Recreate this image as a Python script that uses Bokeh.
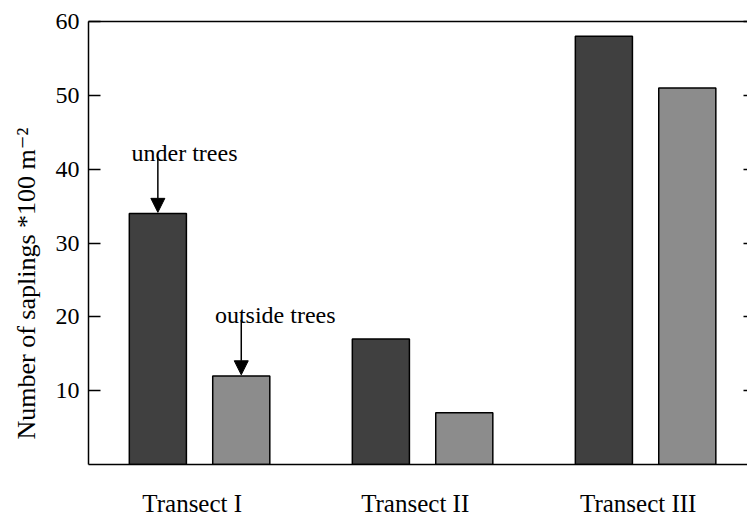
from bokeh.plotting import figure
from bokeh.models import (Range1d, LinearAxis, FixedTicker, Label, Title, Arrow, NormalHead)
from bokeh.embed import file_html
from bokeh.resources import INLINE

# ---- data ----
transects = ["Transect I", "Transect II", "Transect III"]
under_trees = [34, 17, 58]
outside_trees = [12, 7, 51]
y_ticks = [10, 20, 30, 40, 50, 60]
annot_labels = ["under trees", "outside trees"]
y_title = "Number of saplings *100 m\u207b\u00b2"

FONT = "'Liberation Serif', 'Times New Roman', 'DejaVu Serif', serif"
DARK = "#404040"
LIGHT = "#8c8c8c"

groups = list(range(len(transects)))
off = 0.187
bw = 0.256
label_off = -0.033

p = figure(width=747, height=519, output_backend="svg", toolbar_location=None,
           x_range=Range1d(-0.498, 2.457), y_range=Range1d(0, 60),
           min_border_left=88, min_border_right=0, min_border_top=21, min_border_bottom=53)
p.outline_line_color = None
p.grid.visible = False
p.background_fill_color = "white"
p.border_fill_color = "white"

x_under = [g - off for g in groups]
x_out = [g + off for g in groups]
p.vbar(x=x_under, top=under_trees, bottom=0, width=bw, fill_color=DARK,
       line_color="black", line_width=1.5)
p.vbar(x=x_out, top=outside_trees, bottom=0, width=bw, fill_color=LIGHT,
       line_color="black", line_width=1.5)

# left axis
ya = p.yaxis[0]
ya.ticker = FixedTicker(ticks=y_ticks)
ya.major_tick_in = 12
ya.major_tick_out = 0
ya.minor_tick_line_color = None
ya.axis_line_width = 1.5
ya.major_tick_line_width = 1.5
ya.major_label_text_font = FONT
ya.major_label_text_font_size = "24px"
ya.major_label_text_color = "black"
ya.major_label_standoff = 9

# bottom axis
xa = p.xaxis[0]
tick_pos = [g + label_off for g in groups]
xa.ticker = FixedTicker(ticks=tick_pos)
xa.major_label_overrides = {t: name for t, name in zip(tick_pos, transects)}
xa.major_tick_in = 0
xa.major_tick_out = 0
xa.minor_tick_line_color = None
xa.axis_line_width = 1.5
xa.major_label_text_font = FONT
xa.major_label_text_font_size = "25px"
xa.major_label_text_color = "black"
xa.major_label_standoff = 25

# right axis (ticks only)
ra = LinearAxis(ticker=FixedTicker(ticks=y_ticks), major_tick_in=4, major_tick_out=0,
                minor_tick_line_color=None, axis_line_color=None,
                major_label_overrides={t: "" for t in y_ticks},
                major_label_text_font_size="1px", major_label_standoff=0,
                major_tick_line_width=1.5)
p.add_layout(ra, "right")

# top axis (line only)
ta = LinearAxis(ticker=FixedTicker(ticks=[]), major_tick_line_color=None,
                minor_tick_line_color=None, major_tick_in=0, major_tick_out=0,
                major_label_text_font_size="1px", major_label_standoff=0,
                axis_line_width=1.5)
p.add_layout(ta, "above")

# y label
t = Title(text=y_title, align="left", offset=25, vertical_align="top", standoff=20,
          text_font=FONT, text_font_size="26px", text_font_style="normal",
          text_color="black")
p.add_layout(t, "left")

# annotations: first group
vals = [under_trees[0], outside_trees[0]]
xs_c = [x_under[0], x_out[0]]
for c, v, txt in zip(xs_c, vals, annot_labels):
    p.add_layout(Label(x=c - bw / 2 + 0.01, y=v + 8.2, text=txt,
                       text_align="left", text_baseline="alphabetic",
                       text_font=FONT, text_font_size="24px", text_color="black"))
    p.add_layout(Arrow(x_start=c, y_start=v + 7.6, x_end=c, y_end=v + 0.15,
                       line_width=1.5, line_color="black",
                       end=NormalHead(size=14, fill_color="black", line_color="black")))

open("out.html", "w").write(file_html(p, INLINE))
